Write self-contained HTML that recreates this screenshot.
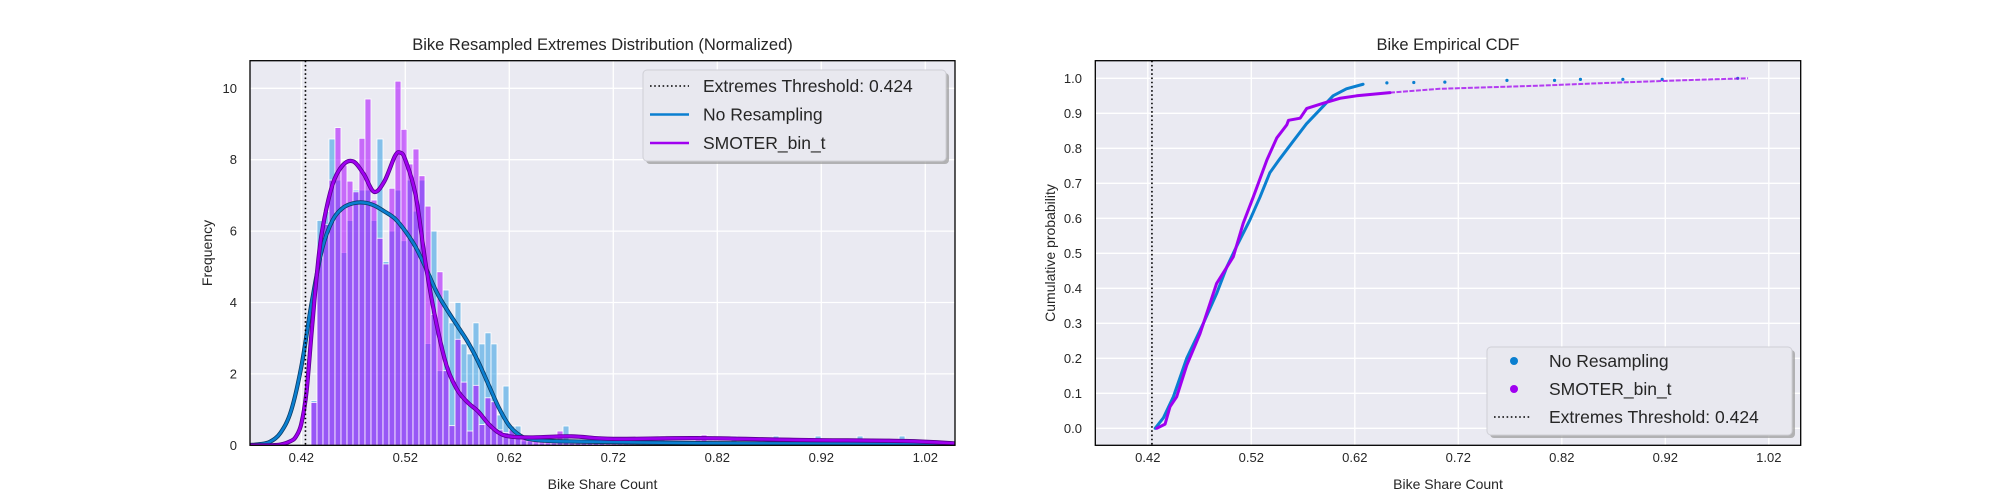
<!DOCTYPE html>
<html><head><meta charset="utf-8"><style>
html,body{margin:0;padding:0;background:#fff;width:2000px;height:500px;overflow:hidden}
svg{display:block;font-family:"Liberation Sans",Arial,sans-serif}
</style></head><body>
<svg id="chart" width="2000" height="500" viewBox="0 0 2000 500" xmlns="http://www.w3.org/2000/svg"></svg>
<script>
// ---------- Left chart data ----------
const histStart = 0.4293;
const histWidth = 0.00577;
const blueHist = [1.25,6.3,6.55,8.58,7.43,5.4,6.3,7.15,7.15,7.15,6.3,8.58,5.15,6.0,7.15,5.73,7.43,6.56,7.43,2.85,
  6.0,2.09,4.35,3.43,4.0,2.84,2.56,3.43,2.84,3.15,2.84,0.85,1.66,0.54,0.54,0.12,0.1,0.05,0.05,0.05,
  0.05,0.1,0.54,0.05,0.05,0.05,0.05,0.26,0.05,0,0,0,0,0,0,0,0,0,0.26,0,
  0,0,0,0,0,0.05,0.26,0,0,0,0.26,0,0,0,0,0,0,0.26,0,0,
  0,0,0,0,0.26,0,0,0,0,0,0,0.26,0,0,0,0,0,0,0.26,0];
const purpleHist = [1.2,5.25,6.19,7.43,8.9,7.85,7.4,7.1,8.6,9.7,6.87,5.8,5.08,7.2,10.2,8.85,7.88,8.3,7.55,6.7,
  3.67,4.86,2.09,0.55,2.97,1.77,0.4,1.68,0.58,1.33,1.22,0.43,0.36,0.43,0.24,0.22,0.15,0.2,0.15,0.18,
  0.15,0.4,0.12,0.15,0.1,0.1,0.08,0.08,0.06,0.06,0.05,0.05,0.05,0.05,0.05,0.05,0.05,0.05,0.05,0.08,
  0.08,0.1,0.1,0.1,0.15,0.29,0.12,0.1,0.08,0.08,0.06,0.06,0.06,0.05,0.05,0.05,0.05,0.05,0.05,0.05,
  0.05,0.05,0.05,0.05,0.05,0.05,0.05,0.05,0.05,0.05,0.05,0.05,0.05,0.05,0.05,0.05,0.05,0.05,0.05,0.05];
const blueKdeX = [0.371,0.38,0.39,0.40,0.41,0.42,0.43,0.44,0.45,0.46,0.47,0.48,0.49,0.50,0.51,0.52,0.53,0.54,0.55,0.56,0.57,0.58,0.59,0.60,0.61,0.62,0.63,0.64,0.66,0.70,0.80,0.90,1.00,1.05];
const blueKdeY = [0.01,0.03,0.1,0.35,0.95,2.2,4.0,5.5,6.3,6.65,6.78,6.8,6.72,6.55,6.35,6.0,5.55,4.95,4.3,3.8,3.35,2.9,2.35,1.7,1.05,0.55,0.28,0.17,0.12,0.1,0.06,0.05,0.04,0.02];
const purpleKdeX = [0.371,0.39,0.40,0.41,0.415,0.42,0.425,0.43,0.435,0.44,0.45,0.46,0.47,0.48,0.49,0.50,0.51,0.515,0.52,0.53,0.54,0.55,0.56,0.57,0.58,0.59,0.60,0.61,0.62,0.64,0.68,0.72,0.80,0.90,1.00,1.05];
const purpleKdeY = [0,0,0.02,0.12,0.25,0.6,1.5,3.2,4.8,6.0,7.3,7.85,7.95,7.6,7.1,7.4,8.1,8.2,8.0,7.0,5.0,3.4,2.2,1.55,1.2,0.95,0.6,0.35,0.25,0.22,0.25,0.18,0.2,0.15,0.12,0.05];
const leftXTicks = [0.42,0.52,0.62,0.72,0.82,0.92,1.02];
const leftYTicks = [0,2,4,6,8,10];
const threshold = 0.424;
// ---------- Right chart data ----------
const blueCdfX = [0.4271,0.4351,0.4447,0.4576,0.4737,0.4865,0.4962,0.5058,0.5186,0.5283,0.5379,0.5476,0.5604,0.5733,0.5862,0.5990,0.6119,0.6280];
const blueCdfP = [0,0.03,0.09,0.2,0.3,0.385,0.46,0.52,0.595,0.66,0.73,0.77,0.82,0.87,0.91,0.95,0.97,0.983];
const blueTailX = [0.651,0.677,0.707,0.767,0.813,0.838,0.879,0.917,0.99];
const blueTailP = [0.987,0.988,0.989,0.994,0.994,0.997,0.997,0.997,1.0];
const purpleCdfX = [0.4287,0.4367,0.4415,0.4479,0.4576,0.4704,0.4865,0.5026,0.5122,0.5218,0.5351,0.5447,0.5543,0.5559,0.5672,0.5736,0.5897,0.6058,0.6218,0.6540,0.7022,0.799,0.857,0.953,1.0];
const purpleCdfP = [0,0.012,0.062,0.09,0.18,0.27,0.414,0.49,0.586,0.66,0.767,0.83,0.867,0.88,0.886,0.914,0.929,0.943,0.95,0.959,0.97,0.979,0.986,0.996,1.0];
const rightXTicks = [0.42,0.52,0.62,0.72,0.82,0.92,1.02];
const rightYTicks = [0,0.1,0.2,0.3,0.4,0.5,0.6,0.7,0.8,0.9,1.0];

const NS = "http://www.w3.org/2000/svg";
const svg = document.getElementById('chart');
function mk(tag, attrs, parent, text){
  const e = document.createElementNS(NS, tag);
  for (const k in attrs) e.setAttribute(k, attrs[k]);
  if (text !== undefined) e.textContent = text;
  (parent||svg).appendChild(e);
  return e;
}
const BG = '#eaeaf2';
const BLUE = '#0a7fd0', PURPLE = '#a000f0';

function pathFrom(xs, ys, fx, fy){
  return xs.map((x,i)=>(i?'L':'M')+fx(x).toFixed(2)+','+fy(ys[i]).toFixed(2)).join(' ');
}
function smoothPath(xs, ys, fx, fy){
  const P = xs.map((x,i)=>[fx(x), fy(ys[i])]);
  let d = 'M'+P[0][0].toFixed(2)+','+P[0][1].toFixed(2);
  for (let i=0;i<P.length-1;i++){
    const p0 = P[i-1]||P[i], p1 = P[i], p2 = P[i+1], p3 = P[i+2]||P[i+1];
    const c1 = [p1[0]+(p2[0]-p0[0])/6, p1[1]+(p2[1]-p0[1])/6];
    const c2 = [p2[0]-(p3[0]-p1[0])/6, p2[1]-(p3[1]-p1[1])/6];
    d += ' C'+c1[0].toFixed(2)+','+c1[1].toFixed(2)+' '+c2[0].toFixed(2)+','+c2[1].toFixed(2)+' '+p2[0].toFixed(2)+','+p2[1].toFixed(2);
  }
  return d;
}

// ======== LEFT ========
const L = {x0:250, x1:955, y0:60.7, y1:445.3};
const lx = v => 301.3 + (v - 0.42) * 1040;
const ly = v => 445.3 - v * 35.7;
const gL = mk('g', {});  
const bgL = mk('rect', {x:L.x0, y:L.y0, width:L.x1-L.x0, height:L.y1-L.y0, fill:BG}, gL);
 
leftXTicks.forEach(t => {
  const gl = mk('line', {x1:lx(t), x2:lx(t), y1:L.y0, y2:L.y1, stroke:'#fff', 'stroke-width':1.3}, gL);
   
  const tl = mk('text', {x:lx(t), y:462, 'text-anchor':'middle', 'font-size':13, fill:'#262626'}, gL, t.toFixed(2));
   
});
leftYTicks.forEach(t => {
  const gl = mk('line', {x1:L.x0, x2:L.x1, y1:ly(t), y2:ly(t), stroke:'#fff', 'stroke-width':1.3}, gL);
   
  const tl = mk('text', {x:237, y:ly(t)+4.5, 'text-anchor':'end', 'font-size':13, fill:'#262626'}, gL, String(t));
   
});
const clipL = mk('clipPath', {id:'clipL'}, gL);
mk('rect', {x:L.x0, y:L.y0, width:L.x1-L.x0, height:L.y1-L.y0}, clipL);
const plotL = mk('g', {'clip-path':'url(#clipL)'}, gL);
blueHist.forEach((v, i) => {
  const a = histStart + i*histWidth;
  const r = mk('rect', {x:lx(a), y:ly(v), width:lx(a+histWidth)-lx(a), height:ly(0)-ly(v), fill:'rgba(30,150,225,0.5)', stroke:'#fff', 'stroke-width':0.8}, plotL);
   
});
purpleHist.forEach((v, i) => {
  const a = histStart + i*histWidth;
  const r = mk('rect', {x:lx(a), y:ly(v), width:lx(a+histWidth)-lx(a), height:ly(0)-ly(v), fill:'rgba(170,0,255,0.55)', stroke:'#fff', 'stroke-width':0.8}, plotL);
   
});
const k1 = mk('path', {d:smoothPath(blueKdeX, blueKdeY, lx, ly), fill:'none', stroke:'#0b3d66', 'stroke-width':4.2, 'stroke-linejoin':'round'}, plotL);
 
const k2 = mk('path', {d:smoothPath(blueKdeX, blueKdeY, lx, ly), fill:'none', stroke:'#0a7fd0', 'stroke-width':2.6, 'stroke-linejoin':'round'}, plotL);
 
const k3 = mk('path', {d:smoothPath(purpleKdeX, purpleKdeY, lx, ly), fill:'none', stroke:'#5a0090', 'stroke-width':4.2, 'stroke-linejoin':'round'}, plotL);
 
const k4 = mk('path', {d:smoothPath(purpleKdeX, purpleKdeY, lx, ly), fill:'none', stroke:'#a000f0', 'stroke-width':2.6, 'stroke-linejoin':'round'}, plotL);
 
const thL = mk('line', {x1:lx(threshold), x2:lx(threshold), y1:L.y0, y2:L.y1, stroke:'#000', 'stroke-width':1.6, 'stroke-dasharray':'1.6 2.6'}, gL);
 
mk('rect', {x:L.x0, y:L.y0, width:L.x1-L.x0, height:L.y1-L.y0, fill:'none', stroke:'#000', 'stroke-width':1.3}, gL);
const tL = mk('text', {x:602.5, y:50, 'text-anchor':'middle', 'font-size':16.5, fill:'#262626'}, gL, 'Bike Resampled Extremes Distribution (Normalized)');
 
const xtL = mk('text', {x:602.5, y:489, 'text-anchor':'middle', 'font-size':14, fill:'#262626'}, gL, 'Bike Share Count');
 
const ytL = mk('text', {x:0, y:0, 'text-anchor':'middle', 'font-size':14, fill:'#262626', transform:'translate(212,253) rotate(-90)'}, gL, 'Frequency');
 
const lgL = mk('g', {}, gL);  
mk('rect', {x:646, y:73, width:303, height:91, rx:4, fill:'#999', opacity:0.7}, lgL);
mk('rect', {x:643, y:70, width:303, height:91, rx:4, fill:'#e8e8ef', stroke:'#cfcfd6', 'stroke-width':1}, lgL);
[['Extremes Threshold: 0.424','dot'],['No Resampling',BLUE],['SMOTER_bin_t',PURPLE]].forEach((e,i)=>{
  const y = 86 + i*28.5;
  const ent = mk('g', {}, lgL);  
  if (e[1]==='dot') mk('line', {x1:650, x2:689, y1:y, y2:y, stroke:'#000', 'stroke-width':1.6, 'stroke-dasharray':'1.6 2.6'}, ent);
  else mk('line', {x1:650, x2:689, y1:y, y2:y, stroke:e[1], 'stroke-width':2.5}, ent);
  mk('text', {x:703, y:y+6, 'font-size':17.5, fill:'#262626'}, ent, e[0]);
});

// ======== RIGHT ========
const R = {x0:1095.3, x1:1800.7, y0:60.7, y1:445.3};
const rx = v => 1147.8 + (v - 0.42) * 1035;
const ry = p => 428.3 - p * 350;
const gR = mk('g', {});  
const bgR = mk('rect', {x:R.x0, y:R.y0, width:R.x1-R.x0, height:R.y1-R.y0, fill:BG}, gR);
 
rightXTicks.forEach(t => {
  const gl = mk('line', {x1:rx(t), x2:rx(t), y1:R.y0, y2:R.y1, stroke:'#fff', 'stroke-width':1.3}, gR);
   
  const tl = mk('text', {x:rx(t), y:462, 'text-anchor':'middle', 'font-size':13, fill:'#262626'}, gR, t.toFixed(2));
   
});
rightYTicks.forEach(t => {
  const gl = mk('line', {x1:R.x0, x2:R.x1, y1:ry(t), y2:ry(t), stroke:'#fff', 'stroke-width':1.3}, gR);
   
  const tl = mk('text', {x:1082, y:ry(t)+4.5, 'text-anchor':'end', 'font-size':13, fill:'#262626'}, gR, t.toFixed(1));
   
});
const thR = mk('line', {x1:rx(threshold), x2:rx(threshold), y1:R.y0, y2:R.y1, stroke:'#000', 'stroke-width':1.6, 'stroke-dasharray':'1.6 2.6'}, gR);
 
const c1 = mk('path', {d:pathFrom(blueCdfX, blueCdfP, rx, ry), fill:'none', stroke:BLUE, 'stroke-width':3, 'stroke-linejoin':'round', 'stroke-linecap':'round'}, gR);
 
blueTailX.forEach((x,i)=>{
  const d = mk('circle', {cx:rx(x), cy:ry(blueTailP[i]), r:1.6, fill:BLUE}, gR);
   
});
const purpleCore = 20;
const c2 = mk('path', {d:pathFrom(purpleCdfX.slice(0,purpleCore), purpleCdfP.slice(0,purpleCore), rx, ry), fill:'none', stroke:PURPLE, 'stroke-width':3, 'stroke-linejoin':'round', 'stroke-linecap':'round'}, gR);
 
const c3 = mk('path', {d:pathFrom(purpleCdfX.slice(purpleCore-1), purpleCdfP.slice(purpleCore-1), rx, ry), fill:'none', stroke:PURPLE, 'stroke-width':2, 'stroke-dasharray':'5 1.5', opacity:0.75}, gR);
 
mk('rect', {x:R.x0, y:R.y0, width:R.x1-R.x0, height:R.y1-R.y0, fill:'none', stroke:'#000', 'stroke-width':1.3}, gR);
const tR = mk('text', {x:1448, y:50, 'text-anchor':'middle', 'font-size':16.5, fill:'#262626'}, gR, 'Bike Empirical CDF');
 
const xtR = mk('text', {x:1448, y:489, 'text-anchor':'middle', 'font-size':14, fill:'#262626'}, gR, 'Bike Share Count');
 
const ytR = mk('text', {x:0, y:0, 'text-anchor':'middle', 'font-size':14, fill:'#262626', transform:'translate(1055,253) rotate(-90)'}, gR, 'Cumulative probability');
 
const lgR = mk('g', {}, gR);  
mk('rect', {x:1490, y:350, width:305, height:88, rx:4, fill:'#999', opacity:0.7}, lgR);
mk('rect', {x:1487, y:347, width:305, height:88, rx:4, fill:'#e8e8ef', stroke:'#cfcfd6', 'stroke-width':1}, lgR);
[['No Resampling',BLUE],['SMOTER_bin_t',PURPLE],['Extremes Threshold: 0.424','dot']].forEach((e,i)=>{
  const y = 361 + i*28;
  const ent = mk('g', {}, lgR);  
  if (e[1]==='dot') mk('line', {x1:1494, x2:1531, y1:y, y2:y, stroke:'#000', 'stroke-width':1.6, 'stroke-dasharray':'1.6 2.6'}, ent);
  else mk('circle', {cx:1514, cy:y, r:4, fill:e[1]}, ent);
  mk('text', {x:1549, y:y+6, 'font-size':17.5, fill:'#262626'}, ent, e[0]);
});
</script>
</body></html>
